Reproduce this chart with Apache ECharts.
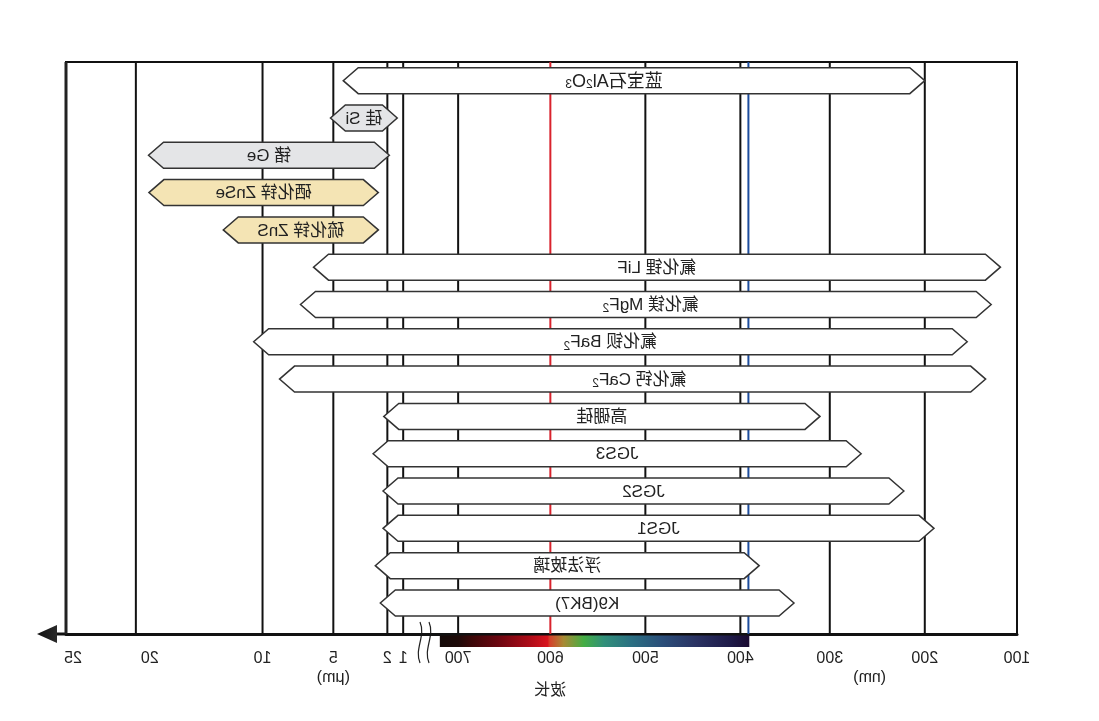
<!DOCTYPE html>
<html>
<head>
<meta charset="utf-8">
<script src="https://cdn.jsdelivr.net/npm/echarts@6/dist/echarts.min.js"></script>
<style>
html,body{margin:0;padding:0;background:#fff;overflow:hidden}
#c{position:absolute;left:0;top:0;width:1099px;height:721px;transform:scaleX(-1);transform-origin:50% 50%}
</style>
</head>
<body>
<div id="c"></div>
<script>
// ---------------- data ----------------
const materials = ['蓝宝石Al2O3','硅 Si','锗 Ge','硒化锌 ZnSe','硫化锌 ZnS','氟化锂 LiF','氟化镁 MgF2','氟化钡 BaF2','氟化钙 CaF2','高硼硅','JGS3','JGS2','JGS1','浮法玻璃','K9(BK7)'];
// transmission range, nm
const startNm = [200, 1375, 1875, 2500, 2500, 118, 128, 154, 134, 311, 267, 222, 190, 379, 340];
const endNm   = [4450, 5200, 19000, 18970, 13100, 6400, 7320, 10700, 8800, 2200, 2790, 2240, 2240, 2670, 2390];
const tone    = ['clear','grey','grey','tan','tan','clear','clear','clear','clear','clear','clear','clear','clear','clear','clear'];
const tickNm   = [100, 200, 300, 400, 500, 600, 700, 1000, 2000, 5000, 10000, 20000, 25000];
const tickText = ['100','200','300','400','500','600','700','1','2','5','10','20','25'];
const blackLineNm = [200, 300, 400, 500, 700, 1000, 2000, 5000, 10000, 20000];
const redLineNm = [600];
const blueLineNm = [391];
const spectrumNm = [390, 800];
const notes = ['(nm)', '(μm)', '波长'];
const noteNm = [258, 5000, 600];

// ---------------- schematic (broken, non-uniform) axis scale ----------------
const scaleCfg = { stopNm: tickNm, stopPos: [100, 199, 301, 397, 499, 601, 700, 759, 776, 834, 910, 1046, 1121] };
function toU(nm) {
  const s = scaleCfg.stopNm, p = scaleCfg.stopPos;
  for (let i = 0; i < s.length - 1; i++) {
    if (nm <= s[i + 1] || i === s.length - 2) {
      return p[i] + (nm - s[i]) / (s[i + 1] - s[i]) * (p[i + 1] - p[i]);
    }
  }
}
const tickU = tickNm.map(toU);

// ---------------- styles ----------------
const FONT = "'Liberation Sans','Noto Sans CJK SC',sans-serif";
const fills = { clear: '#ffffff', grey: '#e4e5e7', tan: '#f4e4b4' };
const labelStyle = { '蓝宝石Al2O3': { dx: 20, size: 18 }, '氟化钙 CaF2': { dx: -7 }, '氟化镁 MgF2': { dx: -5 } };
function sub(name) { return name.replace(/(Al|O|F)(\d)/g, '$1{s|$2}'); }

const lineItems = []
  .concat(blackLineNm.map(n => ({ value: [toU(n), 0], c: '#111111', w: 2 })))
  .concat(redLineNm.map(n => ({ value: [toU(n), 0], c: '#d9232d', w: 2 })))
  .concat(blueLineNm.map(n => ({ value: [toU(n), 0], c: '#1c4c9c', w: 2 })))
  .concat([{ value: [toU(25000), 0], c: '#222222', w: 3 }]);

const chart = echarts.init(document.getElementById('c'));

const xBase = { type: 'value', min: toU(100), max: toU(25000) };

chart.setOption({
  animation: false,
  backgroundColor: '#ffffff',
  grid: [
    { left: 82, right: 66, top: 62, bottom: 87, show: true, borderColor: '#111', borderWidth: 2, backgroundColor: 'transparent' },
    { left: 82, right: 66, top: 62, bottom: 99.4 }
  ],
  xAxis: [
    Object.assign({}, xBase, {
      gridIndex: 0,
      axisLine: { show: true, onZero: false, lineStyle: { color: '#111', width: 3 } },
      axisTick: { show: false },
      splitLine: { show: false },
      axisLabel: {
        customValues: tickU,
        margin: 17,
        color: '#222',
        fontSize: 16,
        fontFamily: FONT,
        formatter: function (v) {
          let k = 0, best = 1e9;
          tickU.forEach((t, i) => { if (Math.abs(t - v) < best) { best = Math.abs(t - v); k = i; } });
          const t = tickText[k];
          if (tickNm[k] === 20000) return '{s14|' + t + '}';
          if (tickNm[k] === 25000) return '{s7|' + t + '}';
          return t;
        },
        rich: {
          s14: { padding: [0, 28, 0, 0], fontSize: 16, fontFamily: FONT, color: '#222' },
          s7: { padding: [0, 14, 0, 0], fontSize: 16, fontFamily: FONT, color: '#222' }
        }
      }
    }),
    Object.assign({}, xBase, { gridIndex: 1, show: false })
  ],
  yAxis: [
    { gridIndex: 0, type: 'value', min: 0, max: 1, show: false },
    { gridIndex: 1, type: 'category', data: materials, inverse: true, show: false }
  ],
  graphic: [
    { type: 'line', shape: { x1: 1033, y1: 634, x2: 1046, y2: 634 }, style: { stroke: '#111', lineWidth: 3 } },
    { type: 'polygon', shape: { points: [[1042, 625], [1062, 634], [1042, 643]] },
      style: { fill: new echarts.graphic.LinearGradient(0, 0, 1, 0, [{ offset: 0, color: '#2a2a2a' }, { offset: 1, color: '#111' }]) } },
    { type: 'bezierCurve', shape: { x1: 670, y1: 622, cpx1: 664, cpy1: 636, cpx2: 676, cpy2: 649, x2: 670, y2: 663 }, style: { stroke: '#222', lineWidth: 1.2, fill: null } },
    { type: 'bezierCurve', shape: { x1: 679, y1: 622, cpx1: 673, cpy1: 636, cpx2: 685, cpy2: 649, x2: 679, y2: 663 }, style: { stroke: '#222', lineWidth: 1.2, fill: null } }
  ],
  series: [
    {
      name: 'lines', type: 'custom', xAxisIndex: 0, yAxisIndex: 0, z: 1,
      data: lineItems,
      renderItem: function (params, api) {
        const it = lineItems[params.dataIndex];
        const x = api.coord([api.value(0), 0])[0];
        const cs = params.coordSys;
        return { type: 'line', shape: { x1: x, y1: cs.y, x2: x, y2: cs.y + cs.height }, style: { stroke: it.c, lineWidth: it.w } };
      }
    },
    {
      name: 'spectrum', type: 'custom', xAxisIndex: 0, yAxisIndex: 0, z: 2, clip: false,
      data: [[toU(spectrumNm[0]), toU(spectrumNm[1])]],
      renderItem: function (params, api) {
        const x0 = api.coord([api.value(0), 0])[0];
        const x1 = api.coord([api.value(1), 0])[0];
        const cs = params.coordSys;
        const y = cs.y + cs.height + 1.5;
        return {
          type: 'rect', shape: { x: x0, y: y, width: x1 - x0, height: 11.5 },
          style: {
            fill: new echarts.graphic.LinearGradient(0, 0, 1, 0, [
              { offset: 0.00, color: '#1a0a30' },
              { offset: 0.06, color: '#1e1a48' },
              { offset: 0.17, color: '#2a3262' },
              { offset: 0.28, color: '#2b4e7a' },
              { offset: 0.38, color: '#2b6f82' },
              { offset: 0.47, color: '#31907a' },
              { offset: 0.535, color: '#44ae44' },
              { offset: 0.60, color: '#a88a34' },
              { offset: 0.645, color: '#d4402a' },
              { offset: 0.652, color: '#d8141e' },
              { offset: 0.706, color: '#b00c18' },
              { offset: 0.813, color: '#6a0610' },
              { offset: 0.90, color: '#3a0808' },
              { offset: 0.94, color: '#1e0a08' },
              { offset: 1.00, color: '#140a08' }
            ])
          }
        };
      }
    },
    {
      name: 'notes', type: 'custom', xAxisIndex: 0, yAxisIndex: 0, z: 2, clip: false,
      data: noteNm.map((n, i) => [toU(n), i]),
      renderItem: function (params, api) {
        const i = params.dataIndex;
        const x = api.coord([api.value(0), 0])[0];
        const cs = params.coordSys;
        const dy = notes[i] === '波长' ? 57 : 44;
        return { type: 'text', style: { text: notes[i], x: x, y: cs.y + cs.height + dy, align: 'center', verticalAlign: 'middle', fill: '#222', fontSize: 16, fontFamily: FONT } };
      }
    },
    {
      name: 'materials', type: 'custom', xAxisIndex: 1, yAxisIndex: 1, z: 5,
      encode: { x: [0, 1], y: 2 },
      data: materials.map((m, i) => [toU(startNm[i]), toU(endNm[i]), i]),
      renderItem: function (params, api) {
        const i = params.dataIndex;
        const a = api.coord([api.value(0), i]);
        const b = api.coord([api.value(1), i]);
        const h = 26, yc = a[1], x0 = a[0], x1 = b[0];
        const d = Math.min(15, (x1 - x0) / 4.5);
        const pts = [[x0, yc], [x0 + d, yc - h / 2], [x1 - d, yc - h / 2], [x1, yc], [x1 - d, yc + h / 2], [x0 + d, yc + h / 2]];
        const ls = labelStyle[materials[i]] || {};
        const fs = ls.size || 17;
        return {
          type: 'group',
          children: [
            { type: 'polygon', shape: { points: pts }, style: { fill: fills[tone[i]], stroke: '#333', lineWidth: 1.5 } },
            { type: 'text', style: {
                text: sub(materials[i]), x: (x0 + x1) / 2 + (ls.dx || 0), y: yc + 1, align: 'center', verticalAlign: 'middle',
                fill: '#222', fontSize: fs, fontFamily: FONT,
                rich: { s: { fontSize: 12, fontFamily: FONT, fill: '#222', color: '#222', verticalAlign: 'bottom', padding: [7, 0, 0, 0] } }
            } }
          ]
        };
      }
    }
  ]
});
</script>
</body>
</html>
